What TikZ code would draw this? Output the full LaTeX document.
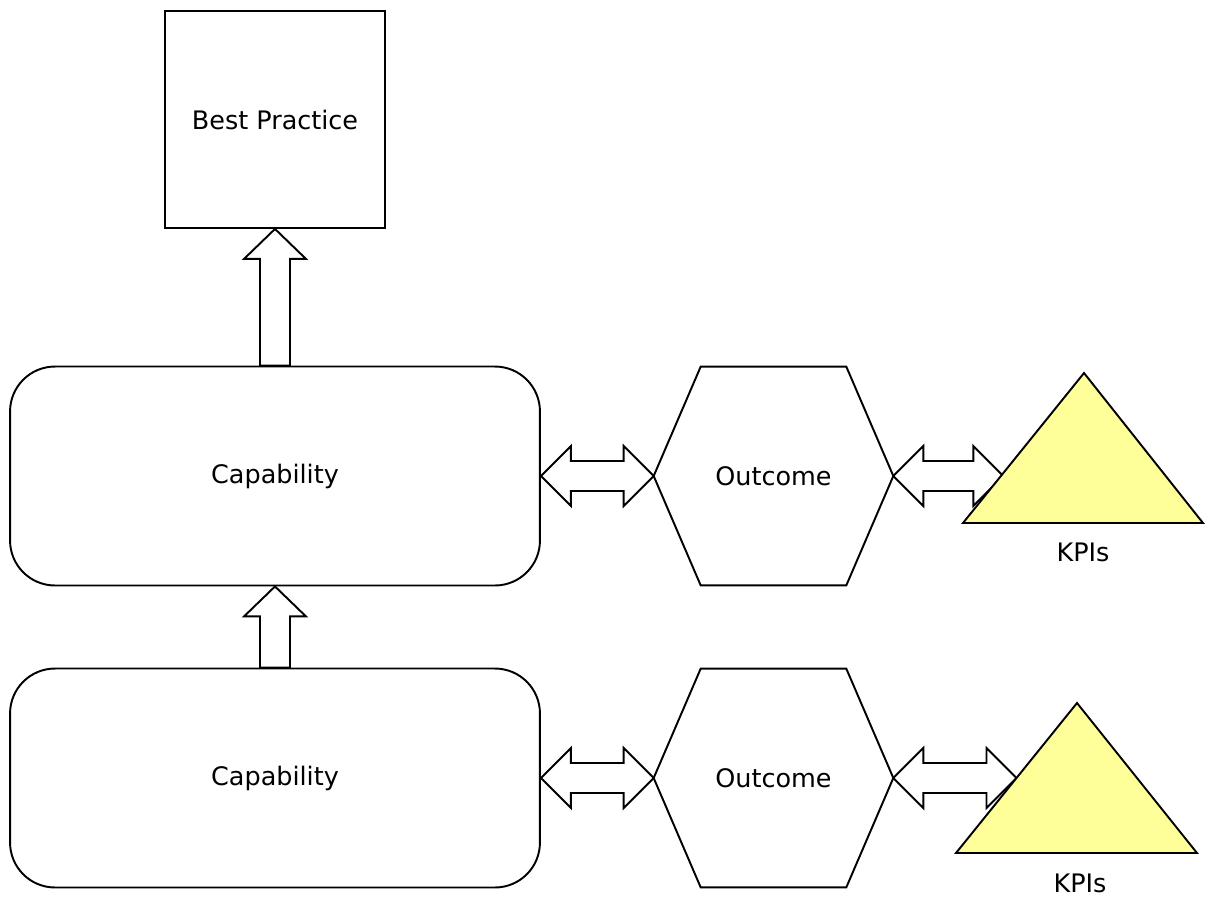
\documentclass[tikz,border=0pt]{standalone}
\usepackage{fontspec}
\setmainfont{DejaVu Sans}
\usepackage{tikz}
\usetikzlibrary{calc, positioning}
\definecolor{kpiyellow}{RGB}{255,255,153}

% fat block arrows, drawn between named points
\newcommand{\fatup}[2]{% #1 = foot, #2 = tip
  \draw[fat arrow] ($(#1)+(-15,0)$) -- ($(#2)+(-15,30)$) -- ++(-16,0) -- (#2)
        -- ++(31,30) -- ++(-16,0) -- ($(#1)+(15,0)$) -- cycle;}
\newcommand{\fatboth}[2]{% #1 = left tip, #2 = right tip
  \draw[fat arrow] (#1) -- ++(30,-30) -- ++(0,15) -- ($(#2)+(-30,-15)$) -- ++(0,-15)
        -- (#2) -- ++(-30,30) -- ++(0,-15) -- ($(#1)+(30,15)$) -- ++(0,15) -- cycle;}

\begin{document}
\begin{tikzpicture}[x=0.02cm, y=-0.02cm,
    every node/.style = {font=\fontsize{14.5}{17}\selectfont},
   fat arrow/.style = {draw, fill=white, line width=1.1pt, line join=miter},
     box/.style = {draw, line width=1.1pt, minimum width=4.4cm, minimum height=4.34cm},
  capbox/.style = {draw, line width=1.1pt, rounded corners=0.9cm,
                   minimum width=10.6cm, minimum height=4.38cm},
    hexa/.style = {minimum width=4.78cm, minimum height=4.36cm},
     kpi/.style = {draw, line width=1.1pt, fill=kpiyellow, line join=miter}
                   ]
    \useasboundingbox (0,0) rectangle (1205,897);

    % nodes
    \node[box] (best) at (275,119.5) {Best Practice};
    \node[capbox] (cap1) at (275,476) {Capability};
    \node[capbox] (cap2) at (275,778) {Capability};
    \node[hexa] (out1) at (773.5,476) {Outcome};
    \node[hexa] (out2) at (773.5,778) {Outcome};

    % hexagon outlines
    \foreach \o in {out1, out2}
        \draw[line width=1.1pt, line join=miter] (\o.west) -- ($(\o.north west)+(47,0)$)
            -- ($(\o.north east)+(-47,0)$) -- (\o.east) -- ($(\o.south east)+(-47,0)$)
            -- ($(\o.south west)+(47,0)$) -- cycle;

    % triangle corners
    \coordinate (t1a) at (1084,373);
    \coordinate (t1l) at (963,523);
    \coordinate (t1r) at (1203,523);
    \coordinate (t2a) at (1077,703);
    \coordinate (t2l) at (956,853);
    \coordinate (t2r) at (1197,853);
    \coordinate (k1) at ($(t1l)!1/3!(t1a)$);
    \coordinate (k2) at ($(t2l)!1/2!(t2a)$);
    \coordinate (kin1) at (out1.east -| k1);
    \coordinate (kin2) at (out2.east -| k2);

    % block arrows
    \fatup{cap1.north}{best.south}
    \fatup{cap2.north}{cap1.south}
    \fatboth{cap1.east}{out1.west}
    \fatboth{cap2.east}{out2.west}
    \fatboth{out1.east}{kin1}
    \fatboth{out2.east}{kin2}

    % KPIs
    \draw[kpi] (t1a) -- (t1r) -- (t1l) -- cycle;
    \draw[kpi] (t2a) -- (t2r) -- (t2l) -- cycle;
    \node (kpi1) at (1083,552) {KPIs};
    \node (kpi2) at (1080,883) {KPIs};
\end{tikzpicture}
\end{document}
